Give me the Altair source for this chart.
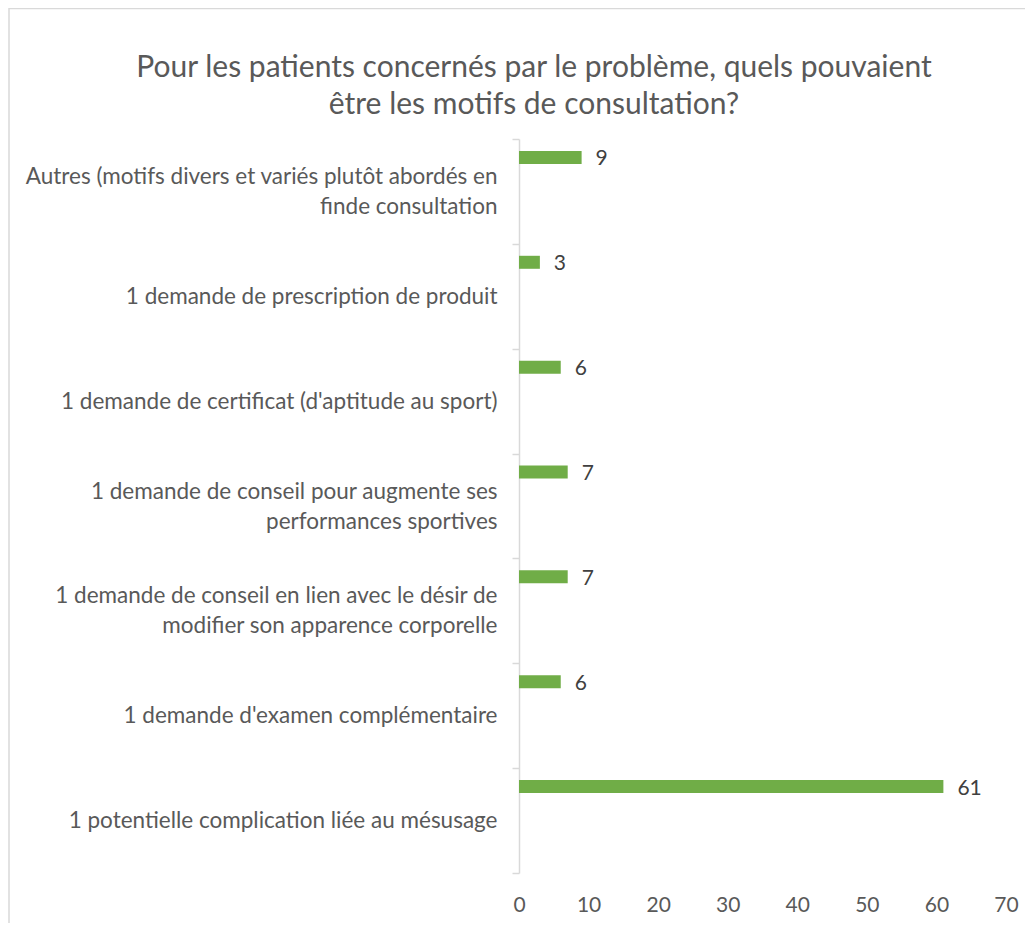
import altair as alt
import pandas as pd

categories = [
    "Autres (motifs divers et variés plutôt abordés en\nfinde consultation",
    "1 demande de prescription de produit",
    "1 demande de certificat (d'aptitude au sport)",
    "1 demande de conseil pour augmente ses\nperformances sportives",
    "1 demande de conseil en lien avec le désir de\nmodifier son apparence corporelle",
    "1 demande d'examen complémentaire",
    "1 potentielle complication liée au mésusage",
]
values = [9, 3, 6, 7, 7, 6, 61]
x_ticks = [0, 10, 20, 30, 40, 50, 60, 70]
title_lines = [
    "Pour les patients concernés par le problème, quels pouvaient",
    "être les motifs de consultation?",
]

FONT = "Lato"
df = pd.DataFrame({"motif": categories, "n": values})

W, H = 487, 734
PAD = {"left": 511, "top": 131, "right": 19, "bottom": 50}

y_enc = alt.Y(
    "motif:N",
    sort=categories,
    scale=alt.Scale(paddingInner=0, paddingOuter=0),
    axis=alt.Axis(
        title=None,
        domainColor="#D9D9D9",
        domainWidth=1.5,
        tickColor="#D9D9D9",
        tickWidth=1.5,
        tickSize=7,
        tickBand="extent",
        labelFont=FONT,
        labelFontSize=22.5,
        labelColor="#595959",
        labelPadding=15,
        labelLineHeight=30,
        labelLimit=700,
        labelOffset={
            "condition": {"test": "indexof(datum.label, '\\n') >= 0", "value": -15},
            "value": 0,
        },
        labelExpr="split(datum.label, '\\n')",
    ),
)
x_enc = alt.X(
    "n:Q",
    scale=alt.Scale(domain=[0, 70], nice=False),
    axis=alt.Axis(
        title=None,
        values=x_ticks,
        domain=False,
        ticks=False,
        grid=False,
        labelFlush=False,
        labelFont=FONT,
        labelFontSize=21,
        labelColor="#595959",
        labelPadding=21,
    ),
)

base = alt.Chart(df)
bars = base.mark_bar(color="#70AD47", size=13, yOffset=-34).encode(x=x_enc, y=y_enc)
labels = base.mark_text(
    align="left", baseline="middle", dx=14, yOffset=-32, font=FONT, fontSize=21, color="#404040"
).encode(x="n:Q", y=alt.Y("motif:N", sort=categories), text="n:Q")

one = pd.DataFrame({"k": [0]})
border = alt.Chart(one).mark_rect(
    fill="transparent", stroke="#D9D9D9", strokeWidth=1.5
).encode(
    x=alt.value(-510), x2=alt.value(W + 60), y=alt.value(-130.5), y2=alt.value(H + 120)
)
title = alt.Chart(one).mark_text(
    text=title_lines,
    font=FONT,
    fontSize=30,
    color="#595959",
    align="center",
    baseline="alphabetic",
    lineHeight=37,
).encode(x=alt.value(15), y=alt.value(-62))

chart = (
    alt.layer(border, title, bars, labels)
    .properties(
        width=W,
        height=H,
        padding=PAD,
        autosize=alt.AutoSizeParams(type="none"),
    )
    .configure(background="white")
    .configure_view(stroke="transparent", strokeWidth=0)
)

chart.save("out.html", embed_options={"renderer": "svg", "actions": False})
